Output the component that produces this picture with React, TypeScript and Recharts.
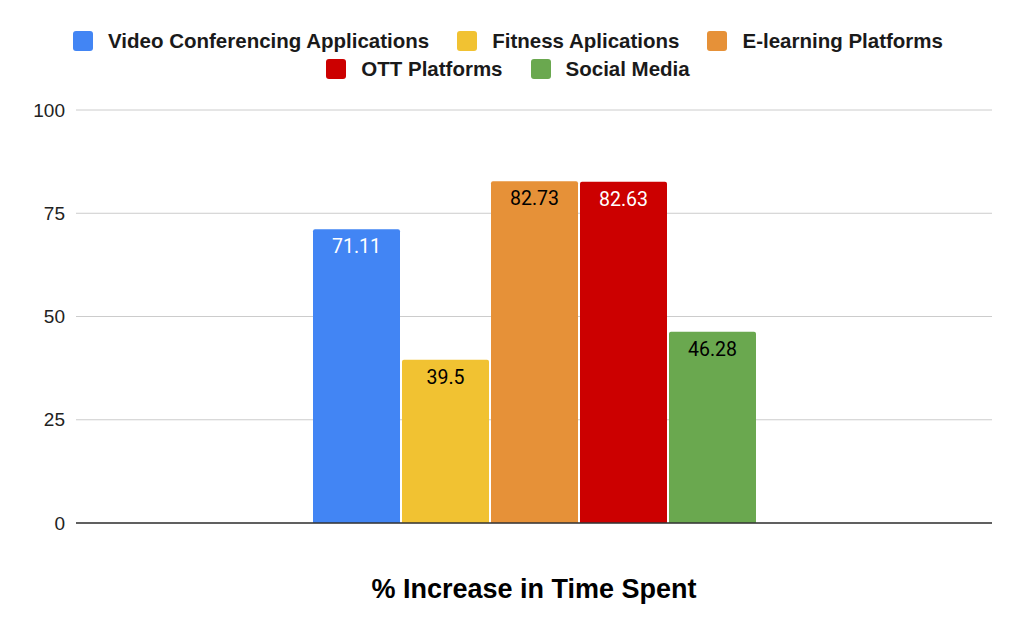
import React from 'react';
import { BarChart, Bar, XAxis, YAxis, CartesianGrid, Legend, LabelList } from 'recharts';

const categories = ['% Increase in Time Spent'];
const seriesNames = [
  'Video Conferencing Applications',
  'Fitness Aplications',
  'E-learning Platforms',
  'OTT Platforms',
  'Social Media',
];
const seriesKeys = ['video', 'fitness', 'elearning', 'ott', 'social'];
const seriesValues = [71.11, 39.5, 82.73, 82.63, 46.28];
const seriesColors = ['#4285F4', '#F1C232', '#E69138', '#CC0000', '#6AA84F'];
const labelColors = ['#ffffff', '#000000', '#000000', '#ffffff', '#000000'];
const yTicks = [0, 25, 50, 75, 100];

const data = categories.map((c) => {
  const row: any = { category: c };
  seriesKeys.forEach((k, i) => {
    row[k] = seriesValues[i];
  });
  return row;
});

const ARIAL = '"Liberation Sans", Arial, sans-serif';

const renderLegend = (props: any) => {
  const payload = [...(props.payload || [])].sort(
    (a: any, b: any) => seriesNames.indexOf(a.value) - seriesNames.indexOf(b.value)
  );
  return (
    <div
      style={{
        display: 'flex',
        flexWrap: 'wrap',
        justifyContent: 'center',
        width: 910,
        marginLeft: 53,
        fontFamily: ARIAL,
        fontWeight: 700,
        fontSize: 20.5,
        color: '#1a1a1a',
      }}
    >
      {payload.map((p: any, i: number) => (
        <div
          key={i}
          style={{ display: 'flex', alignItems: 'center', height: 28, margin: '0 14px' }}
        >
          <span
            style={{
              display: 'inline-block',
              width: 20,
              height: 20,
              borderRadius: 3,
              background: p.color,
              marginRight: 15,
            }}
          />
          <span>{p.value}</span>
        </div>
      ))}
    </div>
  );
};

export default function App() {
  return (
    <div style={{ position: 'absolute', left: 0, top: 0, width: 1024, height: 633, background: '#fff' }}>
      <BarChart
        width={1024}
        height={633}
        data={data}
        margin={{ top: 54, right: 32, bottom: 0, left: 0 }}
        barCategoryGap={237}
        barGap={2}
      >
        <CartesianGrid vertical={false} stroke="#cccccc" />
        <Legend
          verticalAlign="top"
          content={renderLegend}
          itemSorter={null as any}
          wrapperStyle={{ top: 27, left: 0, width: 1024, height: 56 }}
        />
        <XAxis
          dataKey="category"
          height={110}
          tickLine={false}
          tickSize={0}
          tickMargin={56}
          axisLine={{ stroke: '#333333', strokeWidth: 1.5 }}
          tick={{ fontFamily: ARIAL, fontWeight: 700, fontSize: 27, fill: '#000000' }}
        />
        <YAxis
          width={76}
          domain={[0, 100]}
          ticks={yTicks}
          axisLine={false}
          tickLine={false}
          tickSize={0}
          tickMargin={11}
          tick={{ fontFamily: ARIAL, fontSize: 19, fill: '#222222' }}
        />
        {seriesKeys.map((k, i) => (
          <Bar
            key={k}
            dataKey={k}
            name={seriesNames[i]}
            fill={seriesColors[i]}
            radius={[2, 2, 0, 0]}
            isAnimationActive={false}
          >
            <LabelList
              dataKey={k}
              position="insideTop"
              offset={10}
              fill={labelColors[i]}
              style={{ fontFamily: 'Roboto, sans-serif', fontSize: 19.5 }}
            />
          </Bar>
        ))}
      </BarChart>
    </div>
  );
}
